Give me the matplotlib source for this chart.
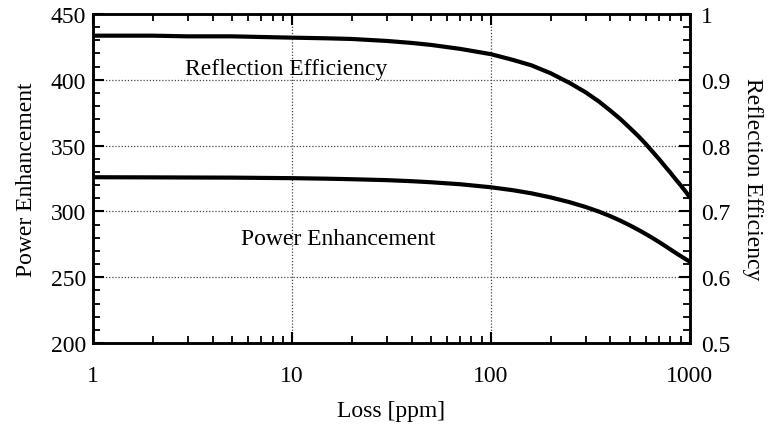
import numpy as np
import matplotlib
matplotlib.use('Agg')
import matplotlib.pyplot as plt
from matplotlib.ticker import MultipleLocator, LogLocator, FixedLocator, FixedFormatter, NullFormatter

# values (left axis: power enhancement)
loss_ppm = [1, 2, 3, 5, 7, 10, 15, 20, 30, 40, 50, 70, 100, 130, 160, 200,
            250, 300, 350, 400, 450, 500, 550, 600, 650, 700, 750, 800,
            850, 900, 950, 1000]
power_enh = [326.0, 325.9, 325.8, 325.7, 325.5, 325.3, 324.9, 324.5, 323.8,
             323.0, 322.2, 320.7, 318.4, 316.1, 313.8, 310.7, 307.0, 303.4,
             299.9, 296.4, 292.9, 289.5, 286.2, 283.0, 279.9, 276.9, 274.0,
             271.2, 268.6, 266.2, 264.0, 262.0]

# right axis: reflection efficiency, same loss points
refl_eff = [0.967, 0.967, 0.966, 0.966, 0.965, 0.964, 0.963, 0.962, 0.959,
            0.956, 0.953, 0.947, 0.939, 0.930, 0.922, 0.910, 0.895, 0.881,
            0.867, 0.853, 0.840, 0.827, 0.815, 0.803, 0.791, 0.780, 0.769,
            0.759, 0.749, 0.740, 0.731, 0.722]

x_ticks = [1, 10, 100, 1000]
x_tick_labels = ['1', '10', '100', '1000']

plt.rcParams['font.family'] = ['Liberation Serif', 'DejaVu Serif']
fs = 17

fig = plt.figure(figsize=(7.74, 4.27), dpi=100)
ax = fig.add_axes([0.120, 0.194, 0.771, 0.771])
ax2 = ax.twinx()

ax.plot(loss_ppm, power_enh, color='black', lw=3.0, solid_joinstyle='round')
ax2.plot(loss_ppm, refl_eff, color='black', lw=3.0, solid_joinstyle='round')

ax.set_xscale('log')
ax.set_xlim(1, 1000)
ax.set_ylim(200, 450)
ax2.set_ylim(0.5, 1.0)

ax.xaxis.set_major_locator(FixedLocator(x_ticks))
ax.xaxis.set_major_formatter(FixedFormatter(x_tick_labels))
ax.xaxis.set_minor_locator(LogLocator(base=10, subs=np.arange(2, 10)))
ax.xaxis.set_minor_formatter(NullFormatter())
ax.yaxis.set_major_locator(MultipleLocator(50))
ax.yaxis.set_minor_locator(MultipleLocator(10))
ax2.yaxis.set_minor_locator(MultipleLocator(0.02))
ax2.set_yticks([0.5, 0.6, 0.7, 0.8, 0.9, 1.0])
ax2.set_yticklabels(['0.5', '0.6', '0.7', '0.8', '0.9', '1'])

ax.grid(True, which='major', linestyle=(0, (1, 1.5)), color='#444444', lw=0.9)

ax.tick_params(axis='x', which='both', direction='in', top=True, labelsize=fs, pad=16)
ax.tick_params(axis='y', which='both', direction='in', right=False, labelsize=fs, pad=5)
ax.tick_params(which='major', length=8, width=1.5)
ax.tick_params(which='minor', length=5, width=1.3)
ax2.tick_params(axis='y', which='both', direction='in', labelsize=fs, pad=8)
ax2.tick_params(which='major', length=8, width=1.5)
ax2.tick_params(which='minor', length=5, width=1.3)

for a in (ax, ax2):
    for s in a.spines.values():
        s.set_linewidth(1.8)

ax.set_xlabel('Loss [ppm]', fontsize=fs, labelpad=10)
ax.set_ylabel('Power Enhancement', fontsize=fs, labelpad=10)
ax2.set_ylabel('Reflection Efficiency', fontsize=fs, rotation=270, labelpad=24)

ax.text(0.324, 0.835, 'Reflection Efficiency', transform=ax.transAxes,
        fontsize=fs, ha='center', va='center')
ax.text(0.412, 0.318, 'Power Enhancement', transform=ax.transAxes,
        fontsize=fs, ha='center', va='center')

fig.savefig('out.png', dpi=100)
